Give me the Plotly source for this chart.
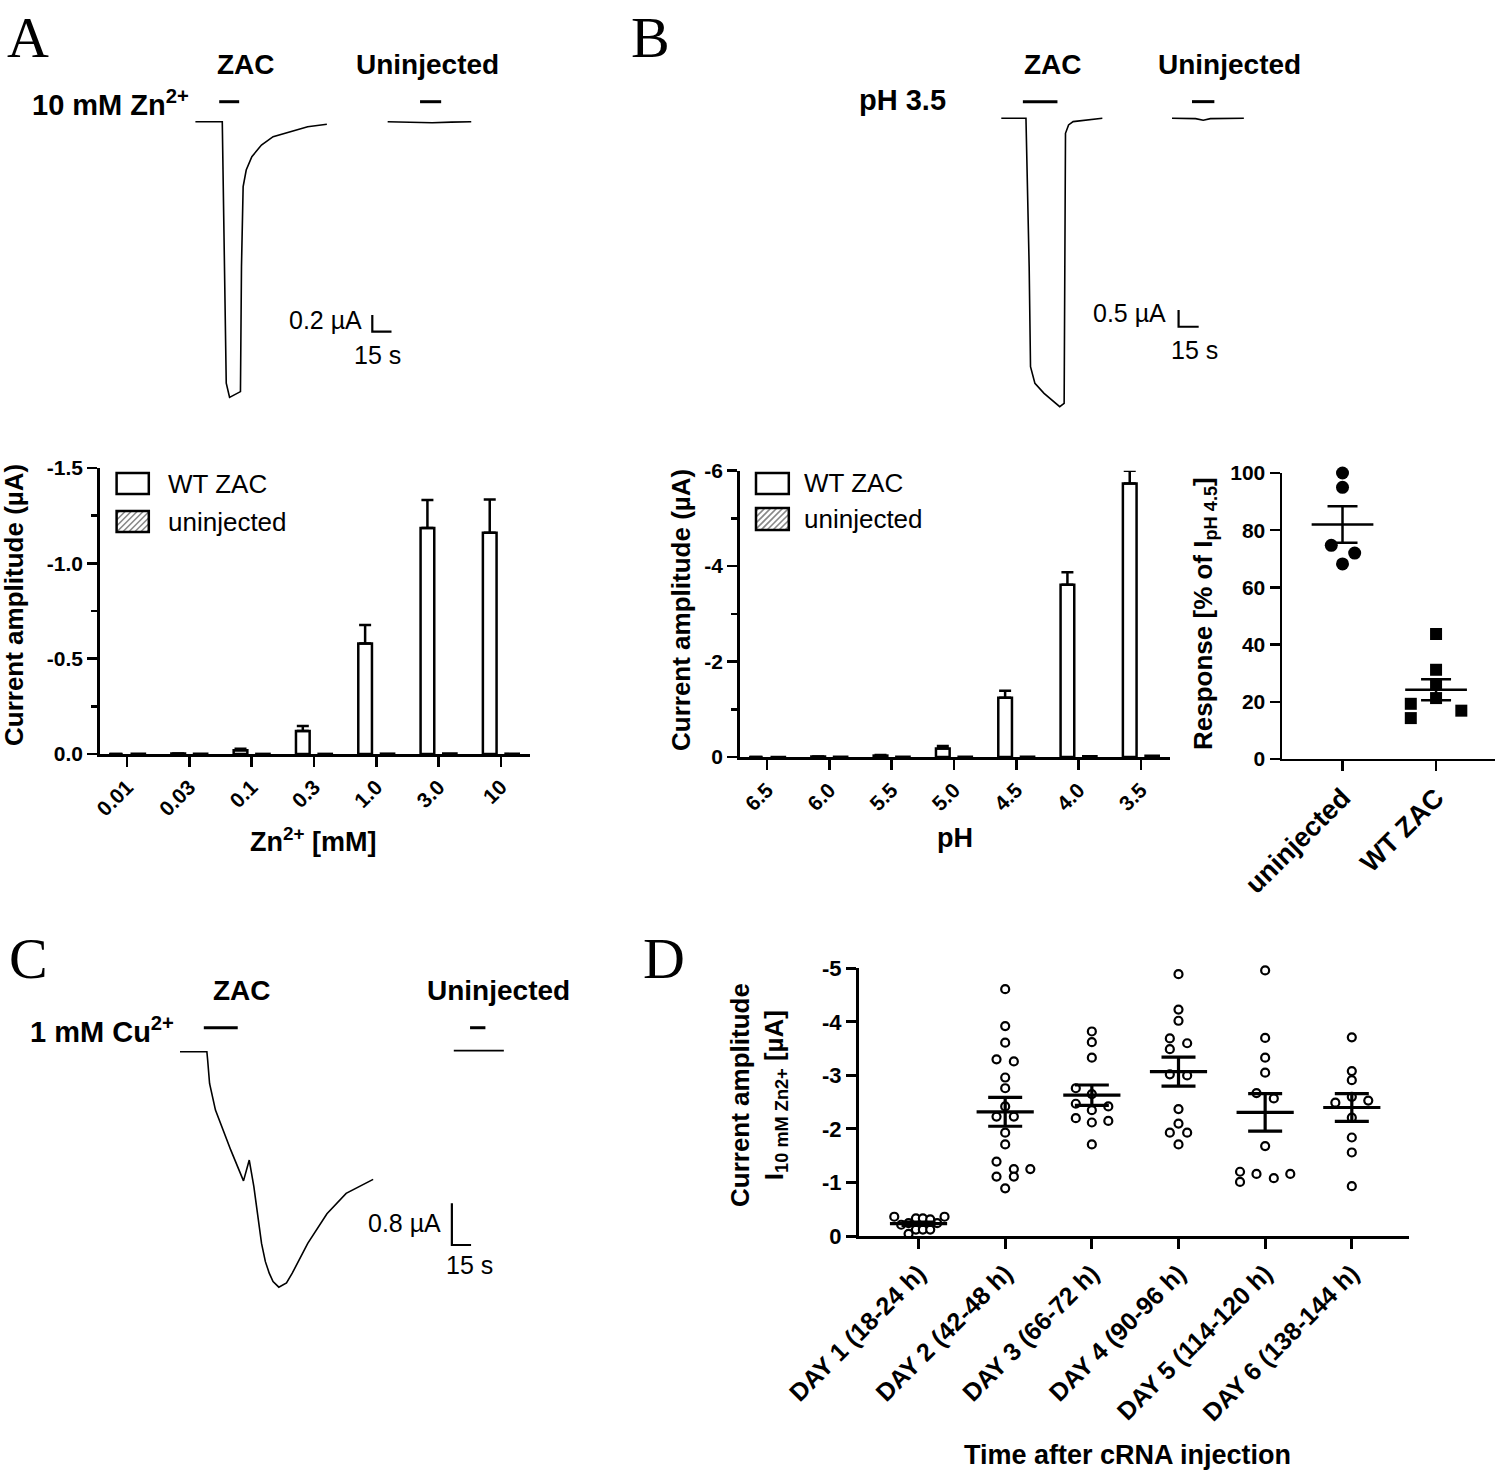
import plotly.graph_objects as go

W, H = 1500, 1476
FONT = "Liberation Sans, Arial, Helvetica, sans-serif"
SERIF = "Liberation Serif, Times New Roman, serif"

# ======================= DATA =======================
# Panel A - example current traces (time s, current uA)
a_zac_t = [0, 21.0, 24.1, 26.7, 35.2, 36.0, 37.3, 39.7, 44.1, 51.6, 60.7, 69.7, 75.7, 87.7, 102.7]
a_zac_i = [0, 0, -3.14, -3.31, -3.24, -1.74, -0.78, -0.58, -0.42, -0.28, -0.18, -0.14, -0.11, -0.06, -0.03]
a_uninj_t = [150.2, 175, 185, 200, 215.5]
a_uninj_i = [0, -0.005, -0.012, -0.005, 0.0]
a_app_zac = [18.6, 34.2]
a_app_uninj = [175.5, 192.0]
a_scale = [0.2, 15]          # uA, s

# Panel A - Zn2+ concentration response
zn_conc = ["0.01", "0.03", "0.1", "0.3", "1.0", "3.0", "10"]
zn_wt_mean = [0.0, -0.003, -0.02, -0.12, -0.58, -1.185, -1.16]
zn_wt_sem = [0.0, 0.0, 0.008, 0.027, 0.096, 0.147, 0.175]
zn_uninj_mean = [-0.002, -0.002, -0.002, -0.002, -0.003, -0.004, -0.003]
zn_yticks = [0, -0.5, -1.0, -1.5]
zn_yticktext = ["0.0", "-0.5", "-1.0", "-1.5"]

# Panel B - example current traces
b_zac_t = [0, 18.4, 20.8, 21.8, 25.1, 31.9, 43.6, 46.9, 47.9, 50.2, 53.6, 75.4]
b_zac_i = [0, 0, -4.46, -7.46, -7.96, -8.26, -8.66, -8.56, -0.45, -0.20, -0.10, 0]
b_uninj_t = [127.4, 145.0, 150.7, 156.0, 181.0]
b_uninj_i = [0, -0.01, -0.06, -0.01, 0]
b_app_zac = [16.1, 41.9]
b_app_uninj = [142.3, 159.0]
b_scale = [0.5, 15]

# Panel B - pH response
ph_vals = ["6.5", "6.0", "5.5", "5.0", "4.5", "4.0", "3.5"]
ph_wt_mean = [0.0, -0.01, -0.03, -0.18, -1.24, -3.61, -5.73]
ph_wt_sem = [0.0, 0.0, 0.01, 0.05, 0.15, 0.26, 0.27]
ph_uninj_mean = [-0.005, -0.01, -0.01, -0.01, -0.01, -0.02, -0.03]
ph_yticks = [0, -2, -4, -6]
ph_yticktext = ["0", "-2", "-4", "-6"]

# Panel B - response relative to pH 4.5
resp_groups = ["uninjected", "WT ZAC"]
resp_uninj = [100, 95, 74.7, 72, 68.2]
resp_uninj_jit = [0, 0, -0.12, 0.13, 0]
resp_wt = [43.7, 31.2, 26.0, 19.3, 14.3, 21.3, 16.9]
resp_wt_jit = [0, 0, 0, -0.27, -0.27, 0, 0.27]
resp_mean = [82.0, 24.2]
resp_sem = [6.4, 3.7]
resp_yticks = [0, 20, 40, 60, 80, 100]

# Panel C - Cu2+ trace
c_zac_t = [0, 21.0, 21.6, 23.1, 27.7, 39.7, 49.6, 51.5, 54.1, 57.7, 60.7, 63.7, 66.7, 69.7,
           72.7, 77.2, 83.2, 87.7, 99.8, 114.8, 129.8, 150.9]
c_zac_i = [0, 0, -0.16, -0.61, -1.12, -1.89, -2.48, -2.30, -2.08, -2.59, -3.10, -3.68, -4.03, -4.25,
           -4.41, -4.52, -4.44, -4.25, -3.68, -3.11, -2.72, -2.45]
c_uninj_t = [213.9, 253.0]
c_uninj_i = [0.02, 0.02]
c_app_zac = [18.6, 45.1]
c_app_uninj = [226.6, 238.6]
c_scale = [0.8, 15]

# Panel D - expression time course
days = ["DAY 1 (18-24 h)", "DAY 2 (42-48 h)", "DAY 3 (66-72 h)",
        "DAY 4 (90-96 h)", "DAY 5 (114-120 h)", "DAY 6 (138-144 h)"]
d_vals = [
    [-0.36, -0.21, -0.24, -0.04, -0.33, -0.12, -0.33, -0.12, -0.31, -0.12, -0.24, -0.36],
    [-4.61, -3.92, -3.61, -3.30, -3.26, -2.96, -2.76, -2.42, -2.23, -2.23, -1.93, -1.71,
     -1.39, -1.25, -1.25, -1.11, -1.11, -0.89],
    [-3.82, -3.62, -3.33, -2.76, -2.65, -2.47, -2.42, -2.35, -2.20, -2.12, -2.15, -1.71],
    [-4.89, -4.23, -4.02, -3.69, -3.60, -3.49, -3.02, -3.00, -2.37, -2.10, -1.93, -1.93, -1.71],
    [-4.96, -3.70, -3.33, -3.05, -2.67, -2.57, -1.68, -1.20, -1.01, -1.16, -1.08, -1.16],
    [-3.71, -3.08, -2.91, -2.49, -2.60, -2.53, -2.21, -1.84, -1.56, -0.93],
]
d_jit = [
    [-0.28, -0.2, -0.115, -0.115, -0.03, -0.03, 0.05, 0.05, 0.135, 0.135, 0.215, 0.3],
    [0, 0, 0, -0.1, 0.1, 0, 0, 0, -0.1, 0.1, 0, 0, -0.1, 0.1, 0.29, -0.1, 0.1, 0],
    [0, 0, 0, -0.185, 0, -0.185, 0.19, 0, -0.185, 0, 0.19, 0],
    [0, 0, 0, -0.1, 0.1, -0.1, -0.1, 0.1, 0, 0, -0.1, 0.1, 0],
    [0, 0, 0, 0, -0.1, 0.1, 0, -0.29, -0.29, -0.1, 0.1, 0.29],
    [0, 0, 0, -0.19, 0, 0.19, 0, 0, 0, 0],
]
d_mean = [-0.23, -2.32, -2.63, -3.07, -2.31, -2.40]
d_sem = [0.03, 0.27, 0.19, 0.27, 0.35, 0.26]
d_yticks = [0, -1, -2, -3, -4, -5]
d_yticktext = ["0", "-1", "-2", "-3", "-4", "-5"]

# ======================= HELPERS =======================
def dx(px0, px1):
    return [px0 / W, px1 / W]


def dy(ptop, pbot):
    return [1 - pbot / H, 1 - ptop / H]


layout = dict(
    template="none",
    width=W, height=H, margin=dict(l=0, r=0, t=0, b=0, pad=0, autoexpand=False),
    paper_bgcolor="white", plot_bgcolor="white",
    showlegend=False, hovermode=False,
    barmode="group", bargap=0.28, bargroupgap=0.39,
    font=dict(family=FONT, color="black"),
)


def trace_axes(n, px0, px1, ptop, pbot, t0px, pps, basepy, ppu):
    xr = [(px0 - t0px) / pps, (px1 - t0px) / pps]
    yr = [-(pbot - basepy) / ppu, -(ptop - basepy) / ppu]
    layout[f"xaxis{n}"] = dict(domain=dx(px0, px1), range=xr, visible=False, anchor=f"y{n}",
                               automargin=False)
    layout[f"yaxis{n}"] = dict(domain=dy(ptop, pbot), range=yr, visible=False, anchor=f"x{n}",
                               automargin=False)


def axis_style(lw, size):
    return dict(showline=True, linecolor="black", linewidth=lw, ticks="outside", ticklen=10,
                tickwidth=lw, tickcolor="black", showgrid=False, zeroline=False, automargin=False,
                tickfont=dict(family=FONT, size=size, color="black", weight="bold"))


# trace panels (hidden axes calibrated against the scale bars)
trace_axes(2, 160, 520, 85, 420, 195.4, 1.28, 121.7, 83.3)     # A
trace_axes(4, 975, 1262, 85, 420, 1001.3, 1.34, 118.3, 33.3)   # B
trace_axes(7, 160, 520, 1005, 1300, 180.0, 1.28, 1051.7, 52.1)  # C

# A bars
layout["xaxis3"] = dict(domain=dx(99.7, 529.6), range=[-0.44, 6.46], type="category",
                        anchor="y3", tickangle=-45, **axis_style(2.5, 21))
layout["yaxis3"] = dict(domain=dy(468, 754), range=[0, -1.5], anchor="x3",
                        tickmode="array", tickvals=zn_yticks, ticktext=zn_yticktext,
                        minor=dict(tickmode="array", tickvals=[-0.25, -0.75, -1.25], ticks="outside",
                                   ticklen=6, tickwidth=2.5, tickcolor="black"),
                        **axis_style(2.5, 21))
# B bars
layout["xaxis5"] = dict(domain=dx(739.7, 1169.6), range=[-0.44, 6.46], type="category",
                        anchor="y5", tickangle=-45, **axis_style(2.5, 21))
layout["yaxis5"] = dict(domain=dy(470.7, 757), range=[0, -6], anchor="x5",
                        tickmode="array", tickvals=ph_yticks, ticktext=ph_yticktext,
                        minor=dict(tickmode="array", tickvals=[-1, -3, -5], ticks="outside",
                                   ticklen=6, tickwidth=2.5, tickcolor="black"),
                        **axis_style(2.5, 21))
# B scatter
layout["xaxis6"] = dict(domain=dx(1281.7, 1495), range=[-0.65, 1.63], anchor="y6",
                        tickmode="array", tickvals=[0, 1], ticktext=resp_groups, tickangle=-45,
                        **axis_style(2.2, 27))
layout["yaxis6"] = dict(domain=dy(473, 759), range=[0, 100], anchor="x6",
                        tickmode="array", tickvals=resp_yticks, **axis_style(2.2, 21))
# D
layout["xaxis8"] = dict(domain=dx(859, 1409), range=[-0.687, 5.66], anchor="y8",
                        tickmode="array", tickvals=list(range(len(days))), ticktext=days,
                        tickangle=-45, **axis_style(3, 25))
layout["yaxis8"] = dict(domain=dy(968.3, 1236), range=[0, -5], anchor="x8",
                        tickmode="array", tickvals=d_yticks, ticktext=d_yticktext,
                        **axis_style(3, 22))

fig = go.Figure()
K = dict(color="black", width=1.6)


def ax(n):
    return dict(xaxis=f"x{n}", yaxis=f"y{n}")


def ephys(n, zt, zi, ut, ui, app_z, app_u, level, scale, spos):
    fig.add_trace(go.Scatter(x=zt, y=zi, mode="lines", line=K, cliponaxis=False, **ax(n)))
    fig.add_trace(go.Scatter(x=ut, y=ui, mode="lines", line=K, cliponaxis=False, **ax(n)))
    for seg in (app_z, app_u):
        fig.add_trace(go.Scatter(x=seg, y=[level, level], mode="lines", cliponaxis=False,
                                 line=dict(color="black", width=3), **ax(n)))
    t, i = spos
    fig.add_trace(go.Scatter(x=[t, t, t + scale[1]], y=[i + scale[0], i, i], mode="lines",
                             cliponaxis=False, line=dict(color="black", width=2.2), **ax(n)))


ephys(2, a_zac_t, a_zac_i, a_uninj_t, a_uninj_i, a_app_zac, a_app_uninj, 0.24, a_scale, (138.2, -2.52))
ephys(4, b_zac_t, b_zac_i, b_uninj_t, b_uninj_i, b_app_zac, b_app_uninj, 0.50, b_scale, (132.3, -6.26))
ephys(7, c_zac_t, c_zac_i, c_uninj_t, c_uninj_i, c_app_zac, c_app_uninj, 0.46, c_scale, (212.4, -3.71))


def bars(n, cats, wt, wt_err, un):
    fig.add_trace(go.Bar(x=cats, y=wt, marker=dict(color="white", line=dict(color="black", width=2.5)),
                         cliponaxis=False,
                         error_y=dict(type="data", symmetric=False, array=[0] * len(wt), arrayminus=wt_err,
                                      color="black", thickness=2.5, width=6), **ax(n)))
    fig.add_trace(go.Bar(x=cats, y=un, marker=dict(color="white", line=dict(color="black", width=2),
                                                   pattern=dict(shape="/", fgcolor="#777", bgcolor="white",
                                                                size=6)), **ax(n)))


bars(3, zn_conc, zn_wt_mean, zn_wt_sem, zn_uninj_mean)
bars(5, ph_vals, ph_wt_mean, ph_wt_sem, ph_uninj_mean)


def mean_sem(n, means, sems, half, cap, lw):
    xs, ys = [], []
    for k, m in enumerate(means):
        xs += [k - half, k + half, None]
        ys += [m, m, None]
    fig.add_trace(go.Scatter(x=xs, y=ys, mode="lines", line=dict(color="black", width=lw),
                             cliponaxis=False, **ax(n)))
    fig.add_trace(go.Scatter(x=list(range(len(means))), y=means, mode="markers", cliponaxis=False,
                             marker=dict(size=1, color="rgba(0,0,0,0)"),
                             error_y=dict(type="data", array=sems, color="black", thickness=lw, width=cap),
                             **ax(n)))


# B scatter points
fig.add_trace(go.Scatter(x=[0 + j for j in resp_uninj_jit], y=resp_uninj, mode="markers", cliponaxis=False,
                         marker=dict(symbol="circle", size=13, color="black"), **ax(6)))
fig.add_trace(go.Scatter(x=[1 + j for j in resp_wt_jit], y=resp_wt, mode="markers", cliponaxis=False,
                         marker=dict(symbol="square", size=12, color="black"), **ax(6)))
mean_sem(6, resp_mean, resp_sem, 0.33, 15, 2.5)

# D points
for k, (vals, jit) in enumerate(zip(d_vals, d_jit)):
    fig.add_trace(go.Scatter(x=[k + j for j in jit], y=vals, mode="markers", cliponaxis=False,
                             marker=dict(symbol="circle", size=8, color="white",
                                         line=dict(color="black", width=2.2)), **ax(8)))
mean_sem(8, d_mean, d_sem, 0.33, 17, 3.2)

# ======================= TEXT & LEGENDS =======================
ann = []


def A(text, px, py, size, bold=True, xanchor="center", angle=0, family=FONT):
    ann.append(dict(text=text, x=px / W, y=1 - py / H, xref="paper", yref="paper", showarrow=False,
                    xanchor=xanchor, yanchor="middle", textangle=angle,
                    font=dict(size=size, family=family, color="black",
                              weight="bold" if bold else "normal")))


for letter, px, py in [("A", 28, 38), ("B", 650, 38), ("C", 28, 958), ("D", 664, 958)]:
    A(letter, px, py, 58, bold=False, family=SERIF)

# trace labels
A("ZAC", 246, 65, 28); A("Uninjected", 427, 65, 28)
A("10 mM Zn<sup>2+</sup>", 191, 103, 29, xanchor="right")
A("0.2 µA", 364, 320, 25, bold=False, xanchor="right"); A("15 s", 377, 355, 25, bold=False)
A("ZAC", 1053, 65, 28); A("Uninjected", 1229, 65, 28); A("pH 3.5", 902, 100, 29)
A("0.5 µA", 1168, 313, 25, bold=False, xanchor="right"); A("15 s", 1194, 350, 25, bold=False)
A("ZAC", 242, 990, 28); A("Uninjected", 498, 990, 28)
A("1 mM Cu<sup>2+</sup>", 176, 1030, 29, xanchor="right")
A("0.8 µA", 443, 1223, 25, bold=False, xanchor="right"); A("15 s", 469, 1265, 25, bold=False)

# axis titles
A("Current amplitude (µA)", 14, 605, 26, angle=-90)
A("Zn<sup>2+</sup> [mM]", 313, 840, 27)
A("Current amplitude (µA)", 681, 610, 26, angle=-90)
A("pH", 955, 838, 27)
A("Response [% of I<sub>pH 4.5</sub>]", 1204, 614, 26, angle=-90)
A("Current amplitude<br>I<sub>10 mM Zn2+</sub> [µA]", 758, 1095, 26, angle=-90)
A("Time after cRNA injection", 1127, 1455, 27)

# legends (drawn manually)
shapes = []


def P(px, py):
    return px / W, 1 - py / H


def legend(bx0, bx1, y1t, y1b, y2t, y2b, tx, ty1, ty2):
    h = y2b - y2t
    c = bx0 - h + 3
    while c < bx1:
        xa, xb = max(bx0, c), min(bx1, c + h)
        if xb > xa:
            x0, y0 = P(xa, y2b - (xa - c))
            x1, y1 = P(xb, y2b - (xb - c))
            shapes.append(dict(type="line", xref="paper", yref="paper", x0=x0, y0=y0, x1=x1, y1=y1,
                               line=dict(color="#888", width=1.6)))
        c += 6
    for (yt, yb) in [(y1t, y1b), (y2t, y2b)]:
        x0, y0 = P(bx0, yb)
        x1, y1 = P(bx1, yt)
        shapes.append(dict(type="rect", xref="paper", yref="paper", x0=x0, y0=y0, x1=x1, y1=y1,
                           line=dict(color="black", width=2.5)))
    A("WT ZAC", tx, ty1, 26, bold=False, xanchor="left")
    A("uninjected", tx, ty2, 26, bold=False, xanchor="left")


legend(116.6, 148.8, 473, 494, 511, 532, 166, 484, 521.5)
legend(756, 788.8, 473, 494, 508, 530, 802, 483, 519)

layout["annotations"] = ann
layout["shapes"] = shapes
fig.update_layout(**layout)
fig.write_html("out.html", config={"displayModeBar": False, "staticPlot": True},
               post_script="document.body.style.margin='0';document.body.style.overflow='hidden';")
